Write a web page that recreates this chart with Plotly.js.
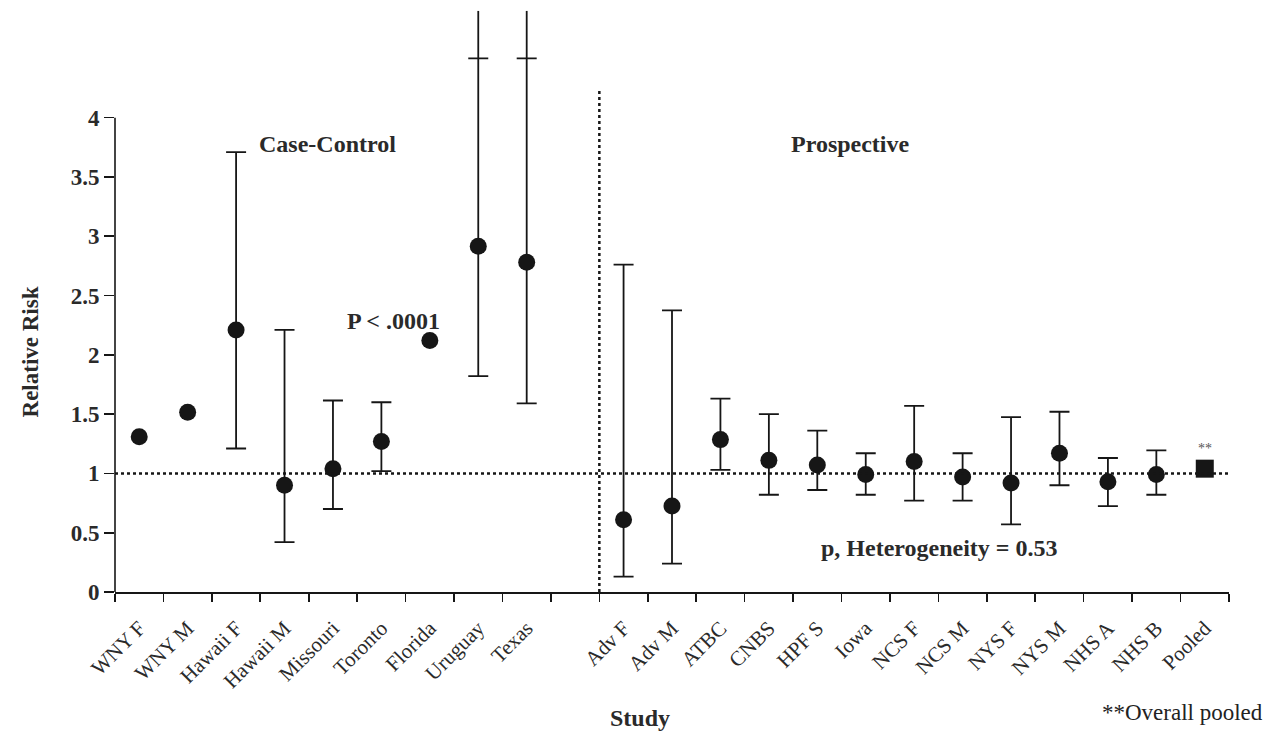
<!DOCTYPE html>
<html>
<head>
<meta charset="utf-8">
<script src="https://cdn.plot.ly/plotly-3.0.1.min.js"></script>
<style>html,body{margin:0;padding:0;background:#fff;}#chart{width:1271px;height:736px;}</style>
</head>
<body>
<div id="chart"></div>
<script>
// ---- data ----
var studies = ['WNY F','WNY M','Hawaii F','Hawaii M','Missouri','Toronto','Florida','Uruguay','Texas','',
  'Adv F','Adv M','ATBC','CNBS','HPF S','Iowa','NCS F','NCS M','NYS F','NYS M','NHS A','NHS B','Pooled'];
var relRisk = [1.31,1.515,2.21,0.90,1.04,1.27,2.12,2.915,2.78,null,
  0.61,0.725,1.285,1.11,1.07,0.99,1.10,0.97,0.92,1.17,0.93,0.99,1.04];
var ciLow = [null,null,1.21,0.42,0.70,1.02,null,1.82,1.59,null,
  0.13,0.24,1.03,0.82,0.86,0.82,0.77,0.77,0.57,0.90,0.725,0.82,null];
var ciHigh = [null,null,3.71,2.21,1.615,1.60,null,4.5,4.5,null,
  2.76,2.375,1.63,1.50,1.36,1.17,1.57,1.17,1.475,1.52,1.13,1.195,null];
// whiskers that continue past the drawn cap (off the top of the scale)
var ciHighOffScale = [null,null,null,null,null,null,null,4.9,4.9,null,
  null,null,null,null,null,null,null,null,null,null,null,null,null];
var yTicks = [0,0.5,1,1.5,2,2.5,3,3.5,4];
var yTickText = ['0','0.5','1','1.5','2','2.5','3','3.5','4'];

// ---- build traces ----
var idx = studies.map(function(_, i){ return i; });
var ex = [], ey = [], ep = [], em = [];
idx.forEach(function(i){
  if (ciLow[i] !== null && ciHigh[i] !== null) {
    ex.push(i); ey.push(relRisk[i]);
    ep.push(ciHigh[i] - relRisk[i]); em.push(relRisk[i] - ciLow[i]);
  }
});
var ox = [], oy = [];
idx.forEach(function(i){
  if (ciHighOffScale[i] !== null) { ox.push(i, i, null); oy.push(ciHigh[i], ciHighOffScale[i], null); }
});
var mx = [], my = [], msym = [], msize = [];
idx.forEach(function(i){
  if (relRisk[i] !== null) {
    mx.push(i); my.push(relRisk[i]);
    var pooled = studies[i] === 'Pooled';
    msym.push(pooled ? 'square' : 'circle');
    msize.push(pooled ? 18 : 17);
  }
});
var ink = '#161616';
var traces = [
  { x: ex, y: ey, type: 'scatter', mode: 'markers', marker: {size: 1, color: 'rgba(0,0,0,0)'},
    error_y: {type: 'data', symmetric: false, array: ep, arrayminus: em, color: ink, thickness: 1.8, width: 10},
    hoverinfo: 'skip', showlegend: false },
  { x: ox, y: oy, type: 'scatter', mode: 'lines', line: {color: ink, width: 1.8},
    hoverinfo: 'skip', showlegend: false },
  { x: mx, y: my, type: 'scatter', mode: 'markers',
    marker: {symbol: msym, size: msize, color: ink, opacity: 1, line: {width: 0}}, showlegend: false }
];

var tickVals = [], tickText = [];
idx.forEach(function(i){ if (studies[i] !== '') { tickVals.push(i); tickText.push(studies[i]); } });

var serif = 'Liberation Serif, Times New Roman, serif';
var txt = '#2a2a2a';
var layout = {
  width: 1271, height: 736,
  margin: {l: 115, r: 42, t: 5, b: 144},
  paper_bgcolor: '#fff', plot_bgcolor: '#fff',
  font: {family: serif, color: txt},
  xaxis: {
    range: [-0.5, studies.length - 0.5],
    tickmode: 'array', tickvals: tickVals, ticktext: tickText,
    tickangle: -45, ticks: '', ticklabelstandoff: 14, tickfont: {family: serif, size: 21, color: txt},
    showgrid: false, zeroline: false, showline: true, linecolor: ink, linewidth: 1.6,
    minor: {tick0: -0.5, dtick: 1, ticks: 'outside', ticklen: 8, tickwidth: 1.6, tickcolor: ink, showgrid: false},
    fixedrange: true
  },
  yaxis: {
    range: [0, 4.95],
    tickmode: 'array', tickvals: yTicks, ticktext: yTickText,
    ticks: 'outside', ticklen: 10, tickwidth: 1.6, tickcolor: ink,
    tickfont: {family: serif, size: 23, color: txt, weight: 'bold'},
    showgrid: false, zeroline: false, showline: false,
    fixedrange: true
  },
  shapes: [
    {type: 'line', xref: 'paper', x0: 0, x1: 0, yref: 'y', y0: 0, y1: 4, line: {color: ink, width: 1.6}},
    {type: 'line', xref: 'x', x0: -0.5, x1: studies.length - 0.5, yref: 'y', y0: 1, y1: 1,
      line: {color: ink, width: 2.5, dash: 'dot'}},
    {type: 'line', xref: 'x', x0: 9.5, x1: 9.5, yref: 'y', y0: 0, y1: 4.245,
      line: {color: ink, width: 2.5, dash: 'dot'}}
  ],
  annotations: [
    {text: '<b>Case-Control</b>', x: 3.88, y: 3.78, xref: 'x', yref: 'y', showarrow: false,
      font: {size: 24, color: txt}},
    {text: '<b>Prospective</b>', x: 14.68, y: 3.78, xref: 'x', yref: 'y', showarrow: false,
      font: {size: 24, color: txt}},
    {text: '<b>P &lt; .0001</b>', x: 5.24, y: 2.285, xref: 'x', yref: 'y', showarrow: false,
      font: {size: 24, color: txt}},
    {text: '<b>p, Heterogeneity = 0.53</b>', x: 16.53, y: 0.37, xref: 'x', yref: 'y', showarrow: false,
      font: {size: 24, color: txt}},
    {text: '**', x: 22, y: 1.21, xref: 'x', yref: 'y', showarrow: false, font: {size: 14, color: '#555'}},
    {text: '<b>Relative Risk</b>', textangle: -90, x: 30, xref: 'paper', y: 2.02, yref: 'y', showarrow: false,
      font: {size: 23, color: txt}},
    {text: '<b>Study</b>', x: 640, y: 718, showarrow: false, font: {size: 24, color: txt}},
    {text: '**Overall pooled', x: 1182, y: 712, showarrow: false, font: {size: 23, color: '#222'}}
  ]
};
// annotations given in pixel terms (outside the plot area)
layout.annotations.forEach(function(a){
  var pw = 1271 - 115 - 42, ph = 736 - 5 - 144;
  if (a.xref === 'paper' && a.x > 1) { a.x = (a.x - 115) / pw; a.xanchor = 'center'; a.yanchor = 'middle'; }
  if (a.xref === undefined) {
    a.xref = 'paper'; a.yref = 'paper';
    a.x = (a.x - 115) / pw;
    a.y = (736 - 144 - a.y) / ph;
    a.xanchor = 'center'; a.yanchor = 'middle';
  }
});
Plotly.newPlot('chart', traces, layout, {displayModeBar: false, staticPlot: true});
</script>
</body>
</html>
